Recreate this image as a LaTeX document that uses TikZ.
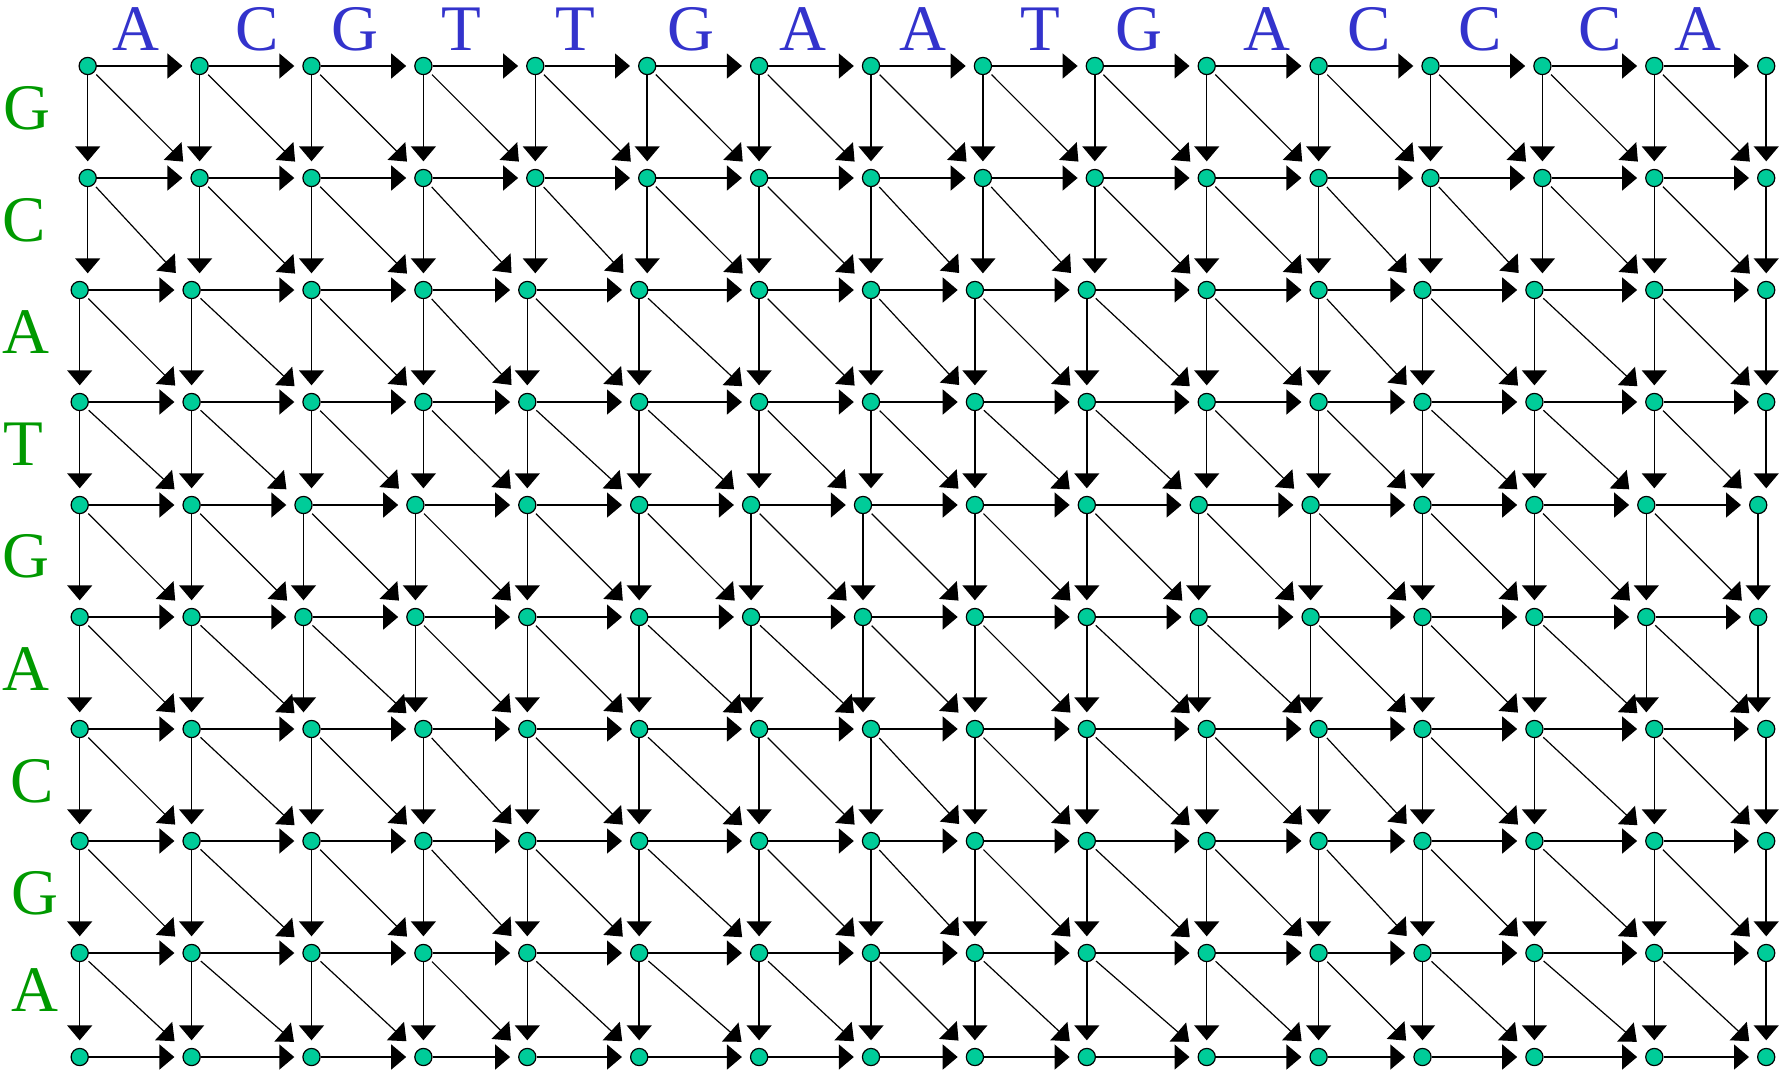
\documentclass[tikz,border=0pt]{standalone}
\usepackage{fontspec}
\setmainfont{Liberation Serif}
\usetikzlibrary{arrows.meta}
\definecolor{dotfill}{RGB}{0,204,153}
\definecolor{topblue}{RGB}{51,51,204}
\definecolor{leftgreen}{RGB}{0,153,0}
\tikzset{
  dot/.style={circle,draw=black,line width=0.6pt,fill=dotfill,minimum size=8.6pt,inner sep=0pt},
  edgeh/.style={line width=0.75pt,-{Triangle[length=7.5pt,width=12.5pt]},shorten >=4pt},
  edgev/.style={line width=0.75pt,-{Triangle[length=7.5pt,width=12.5pt]},shorten >=8.35pt},
  edged/.style={line width=0.6pt,-{Triangle[length=7.5pt,width=12.5pt]},shorten >=7pt,shorten <=1.5pt},
  toplet/.style={text=topblue,inner sep=0pt,anchor=base,font=\fontsize{32.5pt}{36pt}\selectfont},
  leftlet/.style={text=leftgreen,inner sep=0pt,anchor=base,font=\fontsize{32.5pt}{36pt}\selectfont}
}
\begin{document}
\begin{tikzpicture}[x=0.5pt,y=-0.5pt]
\useasboundingbox (0,0) rectangle (1781,1071);
% grid nodes
\foreach \i/\yy in {0/66,1/178,2/290,3/402,4/505,5/617,6/729,7/841,8/953,9/1057} {
  \foreach \j in {0,...,15} {
    \pgfmathsetmacro\sh{(\i<2) ? 0 : ((\i==4 || \i==5) ? -8 : ((mod(\j,4)<2) ? -8 : 0))}
    \node[dot] (n-\i-\j) at ({87.7+111.9*\j+\sh},\yy) {};
  }
}
% horizontal edges
\foreach \i in {0,...,9} {
  \foreach \j [evaluate=\j as \k using int(\j+1)] in {0,...,14} {
    \draw[edgeh] (n-\i-\j) -- (n-\i-\k);
  }
}
% vertical edges (straight down from the source node)
\foreach \i [evaluate=\i as \ii using int(\i+1)] in {0,...,8} {
  \foreach \j in {0,...,15} {
    \draw[edgev] (n-\i-\j) -- (n-\i-\j |- n-\ii-\j);
  }
}
% diagonal edges
\foreach \i [evaluate=\i as \ii using int(\i+1)] in {0,...,8} {
  \foreach \j [evaluate=\j as \k using int(\j+1)] in {0,...,14} {
    \draw[edged] (n-\i-\j) -- (n-\ii-\k);
  }
}
% top sequence
\foreach \x/\c [count=\n] in {136/A,257/C,355/G,461/T,575/T,691/G,803/A,923/A,1040/T,1139/G,1267/A,1369/C,1480/C,1600/C,1698/A} {
  \node[toplet] (t\n) at (\x,50) {\c};
}
% left sequence
\foreach \x/\y/\c [count=\n] in {26.5/129/G,24/241/C,26/353/A,23/465/T,26/577/G,26/690/A,32.5/802/C,35/914/G,35/1011/A} {
  \node[leftlet] (l\n) at (\x,\y) {\c};
}
\end{tikzpicture}
\end{document}
